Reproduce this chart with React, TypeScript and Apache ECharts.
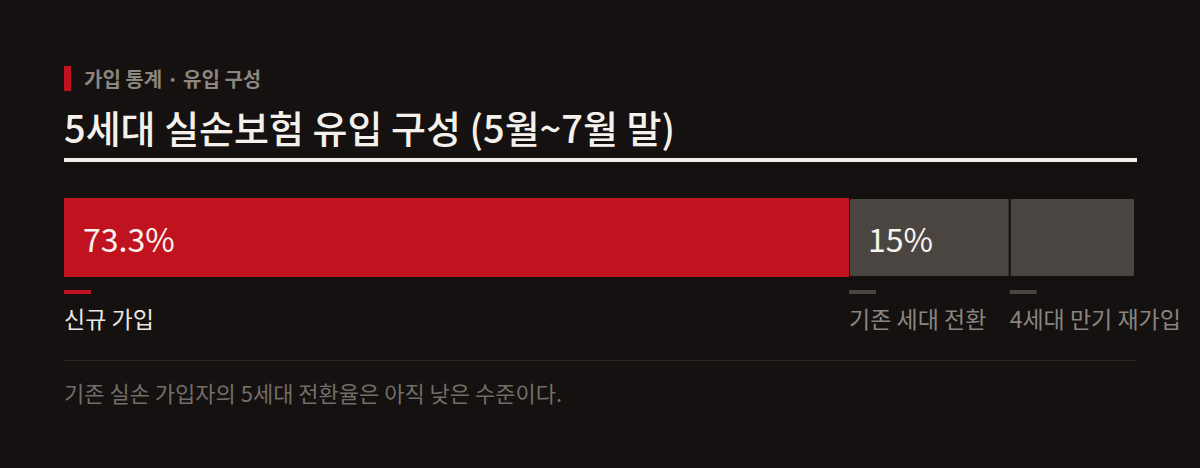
import { useEffect, useRef } from "react";
import * as echarts from "echarts";

const BG = "#141110";
const RED = "#c1131f";
const GRAY = "#4b4541";
const FONT = '"Noto Sans CJK KR", "Noto Sans", sans-serif';

const EYEBROW = "가입 통계 · 유입 구성";
const TITLE = "5세대 실손보험 유입 구성 (5월~7월 말)";
const NOTE = "기존 실손 가입자의 5세대 전환율은 아직 낮은 수준이다.";

// 유입 구성 (%)
const CATEGORIES = ["신규 가입", "기존 세대 전환", "4세대 만기 재가입"];
const SHARES = [73.3, 15, 11.7];
const VALUE_LABELS = ["73.3%", "15%", ""];
const COLORS = [RED, GRAY, GRAY];
const NAME_COLORS = ["#ece8e3", "#8a8480", "#8a8480"];

export default function App() {
  const ref = useRef<HTMLDivElement>(null);

  useEffect(() => {
    document.body.style.margin = "0";
    document.body.style.background = BG;
    if (!ref.current) return;
    const inst = echarts.init(ref.current, undefined, { renderer: "svg" });

    inst.setOption({
      backgroundColor: BG,
      animation: false,
      textStyle: { fontFamily: FONT },
      grid: { left: 64, top: 198, width: 1071, height: 79 },
      xAxis: { type: "value", min: 0, max: 100, show: false },
      yAxis: { type: "category", data: ["유입"], show: false },
      series: CATEGORIES.map((name, i) => ({
        name, type: "bar", stack: "share", barWidth: "100%",
        data: [SHARES[i]],
        // 세그먼트 사이 1px 틈
        itemStyle: { color: COLORS[i], borderColor: BG, borderWidth: i === 0 ? 0 : 1 },
        label: {
          show: true, position: [0, 0], align: "left", verticalAlign: "top",
          formatter: `{v|${VALUE_LABELS[i] || " "}}\n{s| }\n{m| }\n{n|${name}}`,
          rich: {
            v: { fontFamily: FONT, fontSize: 32, color: "#f7f4f0", lineHeight: 79, height: 79, padding: [0, 0, 0, 19] },
            s: { fontSize: 1, lineHeight: 13, height: 13 },
            m: { width: 27, height: 4, lineHeight: 4, backgroundColor: COLORS[i] },
            n: { fontFamily: FONT, fontSize: 23, color: NAME_COLORS[i], lineHeight: 48, height: 48 },
          },
        },
      })),
      graphic: [
        { type: "rect", shape: { x: 64, y: 66, width: 7, height: 25 }, style: { fill: RED } },
        {
          type: "text", x: 84, y: 78,
          style: { text: EYEBROW, font: `bold 20px ${FONT}`, fill: "#8c8580", verticalAlign: "middle" },
        },
        {
          type: "text", x: 64, y: 126,
          style: { text: TITLE, font: `500 38px ${FONT}`, fill: "#f4f1ec", verticalAlign: "middle" },
        },
        { type: "rect", shape: { x: 64, y: 158, width: 1073, height: 4 }, style: { fill: "#f2eee8" } },
        { type: "rect", shape: { x: 64, y: 360, width: 1073, height: 1 }, style: { fill: "#2b2725" } },
        {
          type: "text", x: 64, y: 392,
          style: { text: NOTE, font: `22px ${FONT}`, fill: "#736d68", verticalAlign: "middle" },
        },
      ],
    });

    return () => inst.dispose();
  }, []);

  return <div ref={ref} style={{ width: 1200, height: 468 }} />;
}
